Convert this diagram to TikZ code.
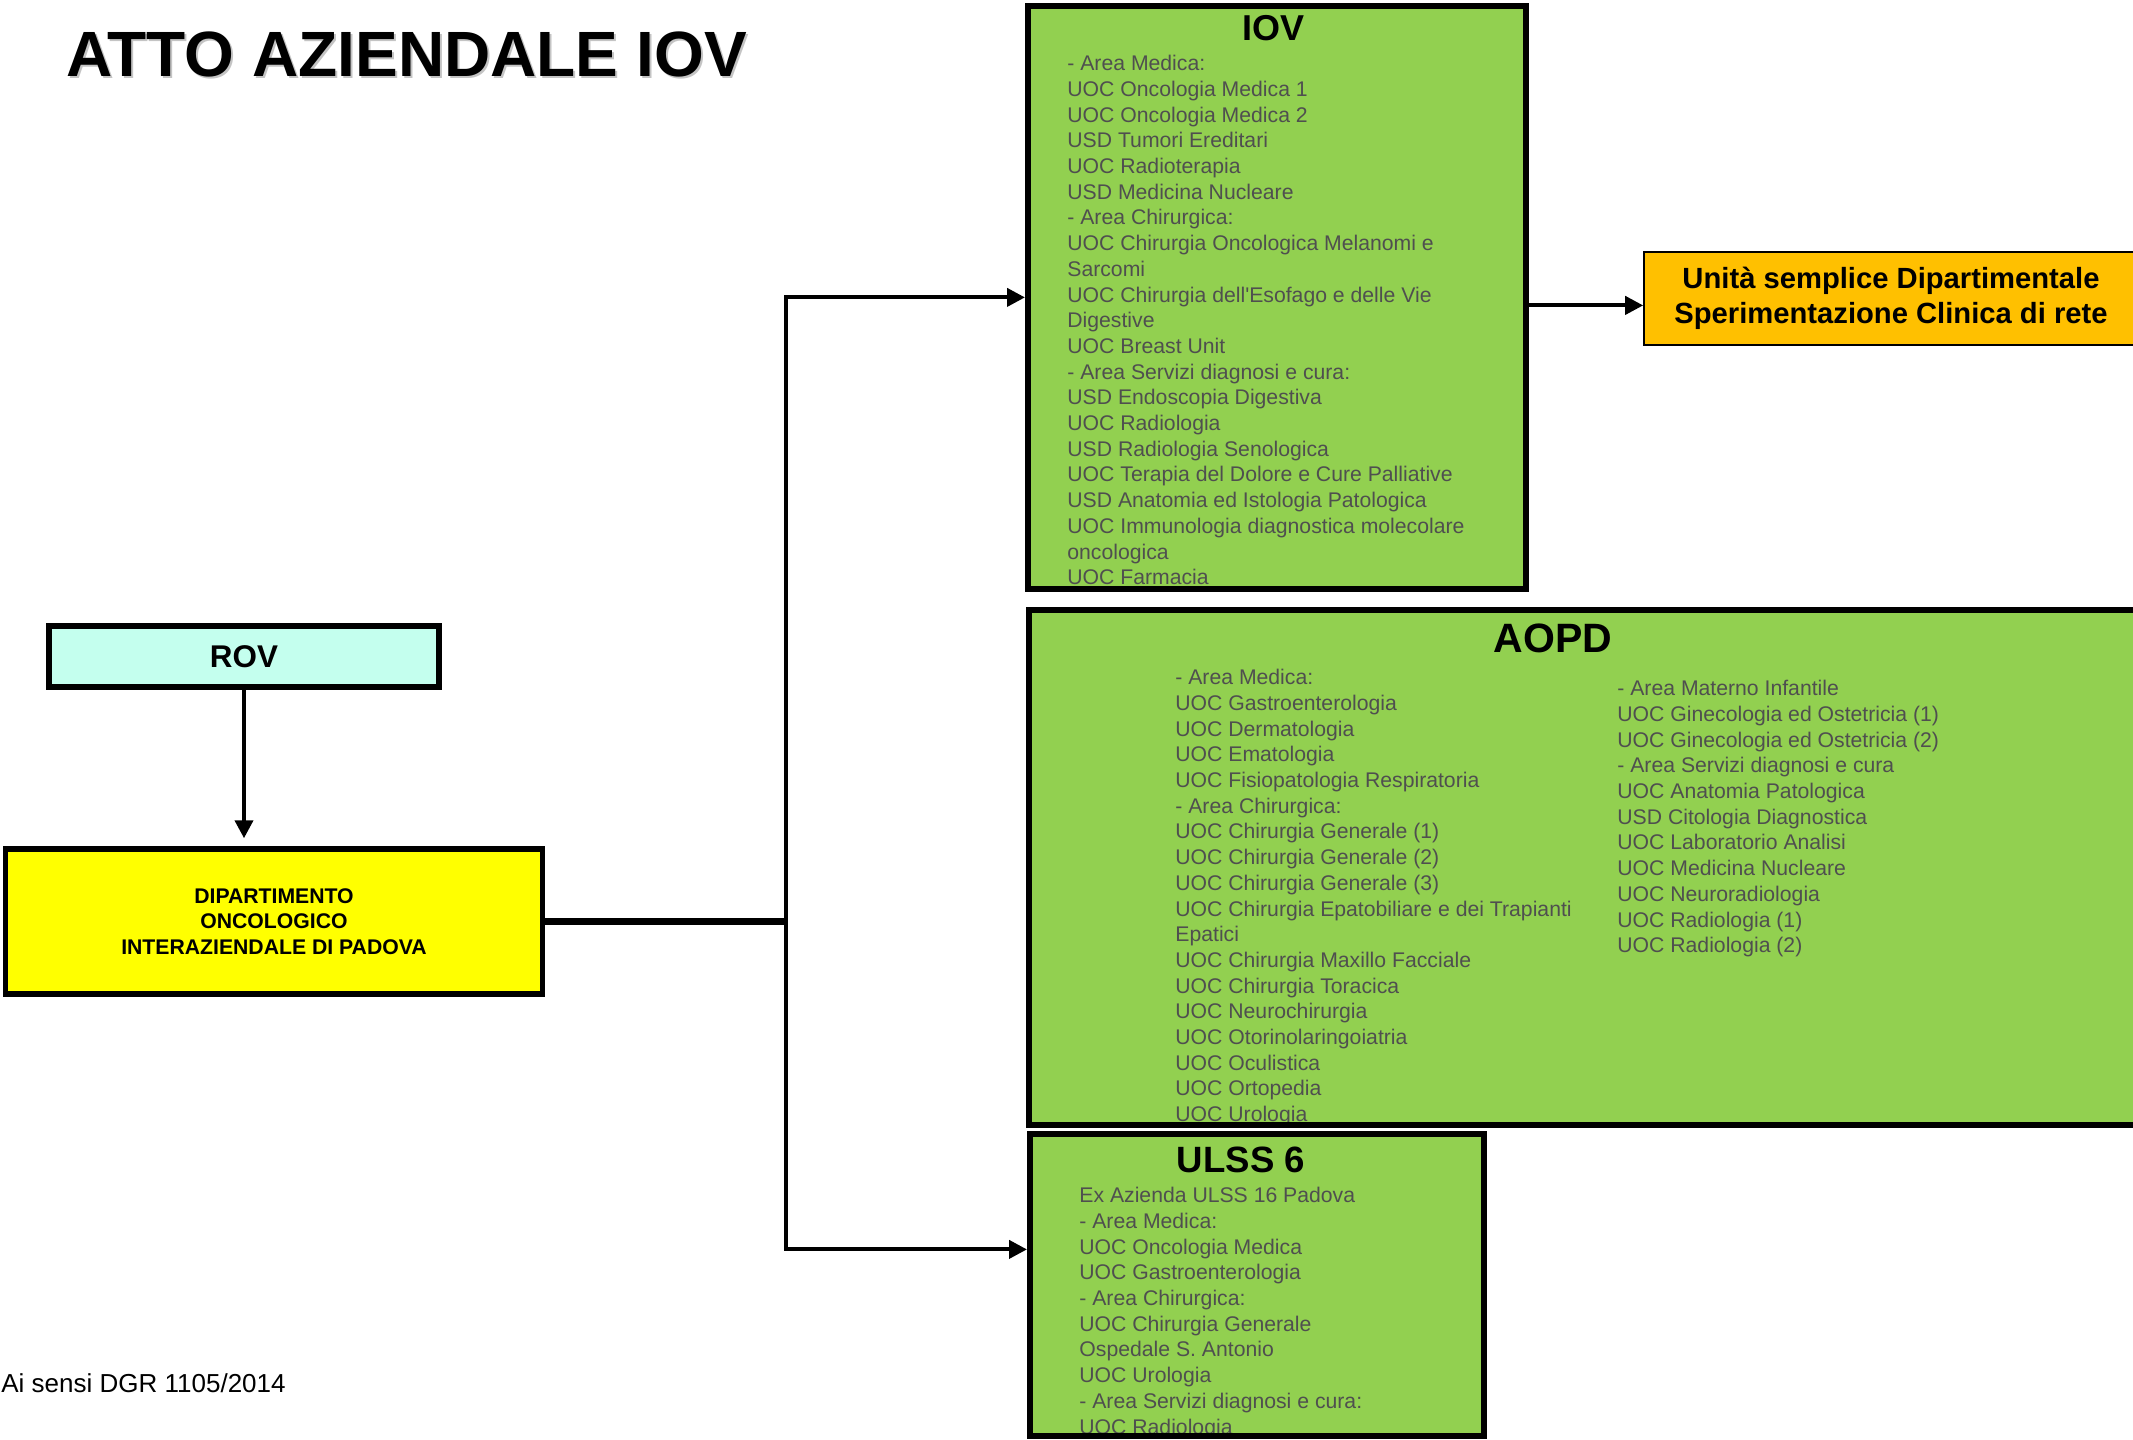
\documentclass[tikz,border=0pt]{standalone}
\usepackage{fontspec}
\setmainfont{Liberation Sans}
\usetikzlibrary{arrows.meta,positioning}

\definecolor{boxgreen}{HTML}{92D050}
\definecolor{rovcyan}{HTML}{C4FFEE}
\definecolor{usdorange}{HTML}{FFC000}
\definecolor{dipyellow}{HTML}{FFFF00}
\definecolor{listgray}{HTML}{4F4F4F}
\definecolor{shadowgray}{HTML}{C4C4C4}

\tikzset{
  frame/.style={draw=black,line width=2.75pt},
  greenbox/.style={fill=boxgreen,inner sep=0pt,anchor=north west},
  unitlist/.style={text=listgray,align=left,inner sep=0pt,anchor=north west,
    font=\fontsize{10.6}{12.85}\selectfont},
  boxtitle/.style={inner sep=0pt,anchor=base},
  link/.style={line width=2pt,-{Triangle[length=9pt,width=9pt]}},
}

\begin{document}
\begin{tikzpicture}[x=0.5pt,y=-0.5pt]
  \useasboundingbox (0,0) rectangle (2133,1440);

  % Title
  \node[shadowgray,inner sep=0pt,anchor=base west,font=\bfseries\fontsize{32}{36}\selectfont]
    (titleshadow) at (68,78) {ATTO AZIENDALE IOV};
  \node[inner sep=0pt,anchor=base west,font=\bfseries\fontsize{32}{36}\selectfont]
    (title) at (66,76) {ATTO AZIENDALE IOV};

  % ROV and department
  \node[frame,fill=rovcyan,minimum width=195pt,minimum height=30.5pt,
    font=\bfseries\fontsize{15.7}{18}\selectfont] (rov) at (244,656.5) {ROV};
  \node[frame,fill=dipyellow,minimum width=268.5pt,minimum height=72.5pt,align=center,
    font=\bfseries\fontsize{10.6}{12.8}\selectfont] (dip) at (274,921.5)
    {DIPARTIMENTO\\ONCOLOGICO\\INTERAZIENDALE DI PADOVA};

  % IOV
  \node[greenbox,minimum width=248.5pt,minimum height=291pt] (iov) at (1028,6) {};
  \node[boxtitle,font=\bfseries\fontsize{18}{20}\selectfont] (iovtitle) at (1273,40) {IOV};
  \node[unitlist] (iovlist) at (1067,55) {- Area Medica:\\
    UOC Oncologia Medica 1\\
    UOC Oncologia Medica 2\\
    USD Tumori Ereditari\\
    UOC Radioterapia\\
    USD Medicina Nucleare\\
    - Area Chirurgica:\\
    UOC Chirurgia Oncologica Melanomi e\\
    Sarcomi\\
    UOC Chirurgia dell\textquotesingle Esofago e delle Vie\\
    Digestive\\
    UOC Breast Unit\\
    - Area Servizi diagnosi e cura:\\
    USD Endoscopia Digestiva\\
    UOC Radiologia\\
    USD Radiologia Senologica\\
    UOC Terapia del Dolore e Cure Palliative\\
    USD Anatomia ed Istologia Patologica\\
    UOC Immunologia diagnostica molecolare\\
    oncologica\\
    UOC Farmacia};
  \draw[frame] (iov.north west) rectangle (iov.south east);

  % Unita semplice
  \node[draw=black,line width=0.8pt,fill=usdorange,minimum width=247pt,minimum height=46.5pt,
    align=center,font=\bfseries\fontsize{14.6}{17.5}\selectfont] (usd) at (1891,298.5)
    {Unità semplice Dipartimentale\\Sperimentazione Clinica di rete};

  % AOPD
  \node[greenbox,minimum width=560.5pt,minimum height=257pt] (aopd) at (1029,610) {};
  \node[boxtitle,font=\bfseries\fontsize{20.5}{22}\selectfont] (aopdtitle) at (1553,652) {AOPD};
  \node[unitlist] (aopdleft) at (1175,669) {- Area Medica:\\
    UOC Gastroenterologia\\
    UOC Dermatologia\\
    UOC Ematologia\\
    UOC Fisiopatologia Respiratoria\\
    - Area Chirurgica:\\
    UOC Chirurgia Generale (1)\\
    UOC Chirurgia Generale (2)\\
    UOC Chirurgia Generale (3)\\
    UOC Chirurgia Epatobiliare e dei Trapianti\\
    Epatici\\
    UOC Chirurgia Maxillo Facciale\\
    UOC Chirurgia Toracica\\
    UOC Neurochirurgia\\
    UOC Otorinolaringoiatria\\
    UOC Oculistica\\
    UOC Ortopedia\\
    UOC Urologia};
  \node[unitlist] (aopdright) at (1617,680) {- Area Materno Infantile\\
    UOC Ginecologia ed Ostetricia (1)\\
    UOC Ginecologia ed Ostetricia (2)\\
    - Area Servizi diagnosi e cura\\
    UOC Anatomia Patologica\\
    USD Citologia Diagnostica\\
    UOC Laboratorio Analisi\\
    UOC Medicina Nucleare\\
    UOC Neuroradiologia\\
    UOC Radiologia (1)\\
    UOC Radiologia (2)};
  \draw[frame] (aopd.north west) rectangle (aopd.south east);

  % ULSS 6
  \node[greenbox,minimum width=226.5pt,minimum height=150.5pt] (ulss) at (1030,1134) {};
  \node[boxtitle,font=\bfseries\fontsize{18.3}{20}\selectfont] (ulsstitle) at (1241,1172) {ULSS 6};
  \node[unitlist] (ulsslist) at (1079,1187) {Ex Azienda ULSS 16 Padova\\
    - Area Medica:\\
    UOC Oncologia Medica\\
    UOC Gastroenterologia\\
    - Area Chirurgica:\\
    UOC Chirurgia Generale\\
    Ospedale S. Antonio\\
    UOC Urologia\\
    - Area Servizi diagnosi e cura:\\
    UOC Radiologia};
  \draw[frame] (ulss.north west) rectangle (ulss.south east);

  % Connectors
  \coordinate (split) at (786,921.5);
  \draw[link,shorten >=4pt] (rov.south) -- (rov.south |- dip.north);
  \draw[line width=3.5pt] (dip.east) -- (split);
  \draw[link,shorten >=1.5pt] (split) |- (iov.west);
  \draw[link,shorten >=1.5pt] (split) |- ([yshift=17.75pt]ulss.west);
  \draw[link] ([yshift=-4pt]iov.east) -- ([yshift=-4pt]iov.east -| usd.west);

  % Note
  \node[inner sep=0pt,anchor=base west,font=\fontsize{13}{15}\selectfont] (note) at (1,1392)
    {Ai sensi DGR 1105/2014};
\end{tikzpicture}
\end{document}
